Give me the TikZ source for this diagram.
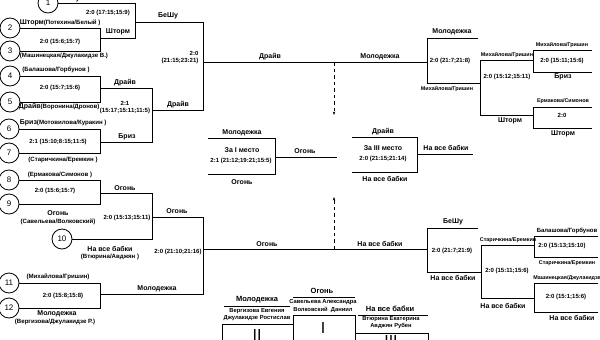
\documentclass[tikz,border=0pt]{standalone}
\usepackage{fontspec}
\setmainfont{Liberation Sans}
\usetikzlibrary{arrows.meta}
\newcommand{\tm}{\fontsize{7}{8}\selectfont\bfseries}
\newcommand{\pr}{\fontsize{6.1}{7}\selectfont\bfseries}

\begin{document}
\begin{tikzpicture}[
  x=1pt, y=-1pt,
  line width=0.8pt,
  seed/.style={circle, draw, line width=0.8pt, minimum size=20pt, inner sep=0pt,
               font=\fontsize{8}{9}\selectfont},
  team/.style={inner sep=0.5pt, font=\tm},
  score/.style={inner sep=0.5pt, align=center, font=\fontsize{6}{7}\selectfont\bfseries},
  pair/.style={inner sep=0.5pt, font=\pr},
  nick/.style={inner sep=0.5pt, font=\fontsize{5.4}{6.5}\selectfont\bfseries},
  names/.style={inner sep=0.5pt, align=center, font=\fontsize{5.8}{7.2}\selectfont\bfseries},
  place/.style={inner sep=0pt, font=\fontsize{16}{16}\selectfont},
  arrow/.style={-{Stealth[length=3.5pt,width=2.6pt]}, dash pattern=on 3.5pt off 3pt, line width=0.6pt}
]
\useasboundingbox (0,0) rectangle (600,340);

% seeds
\foreach \n/\x/\y in {1/48/3, 2/10/28, 3/10/51, 4/10/76, 5/10/102, 6/9/129, 7/9/153,
                      8/9/180, 9/9/204, 10/62/239, 11/9/283, 12/9/308}
  \node[seed] (c\n) at (\x,\y) {\n};

% junctions, left half
\coordinate (m23) at (100,38);
\coordinate (m1) at (135,22);
\coordinate (m45) at (100,88);
\coordinate (m67) at (100,142);
\coordinate (m47) at (152,110);
\coordinate (m89) at (100,193);
\coordinate (m810) at (152,217);
\coordinate (m1112) at (100,294);
\coordinate (m17) at (203,62);
\coordinate (m812) at (203,249);

% junctions, right top
\coordinate (mR1) at (427,62);
\coordinate (eR1) at (478,38);
\coordinate (mR2) at (480,83);
\coordinate (mR3) at (533,60);
\coordinate (eR3a) at (592,50);
\coordinate (eR3b) at (592,72);
\coordinate (mR4) at (533,115);
\coordinate (eR4a) at (592,107);
\coordinate (eR4b) at (592,128);

% junctions, right bottom
\coordinate (mB1) at (427,249);
\coordinate (eB1) at (478,228);
\coordinate (mB2) at (481,272);
\coordinate (mB3) at (534,245);
\coordinate (eB3a) at (598,236);
\coordinate (eB3b) at (598,257);
\coordinate (mB4) at (534,298);
\coordinate (eB4a) at (598,283);
\coordinate (eB4b) at (598,312);

% finals
\coordinate (g) at (275,157);
\coordinate (eGa) at (208,138);
\coordinate (eGb) at (208,174);
\coordinate (gout) at (337,157);
\coordinate (b) at (417,154);
\coordinate (eBa) at (352,137);
\coordinate (eBb) at (352,172);
\coordinate (bout) at (473,154);

\foreach \a/\b in {c2/m23, c3/m23, c1/m1, m23/m1, c4/m45, c5/m45, c6/m67, c7/m67,
                   m45/m47, m67/m47, c8/m89, c9/m89, m89/m810, c10/m810, c11/m1112,
                   c12/m1112, m1/m17, m47/m17, m810/m812, m1112/m812,
                   eR1/mR1, mR2/mR1, mR3/mR2, mR4/mR2, eR3a/mR3, eR3b/mR3, eR4a/mR4, eR4b/mR4,
                   eB1/mB1, mB2/mB1, mB3/mB2, mB4/mB2, eB3a/mB3, eB3b/mB3, eB4a/mB4, eB4b/mB4,
                   eGa/g, eGb/g, eBa/b, eBb/b}
  \draw (\a) -| (\b);
\draw (m17) -- (mR1);
\draw (m812) -- (mB1);
\draw (g) -- (gout);
\draw (b) -- (bout);

% dashed pointers to the finals
\coordinate (d1) at (334,62);
\coordinate (a1) at (334,115);
\coordinate (d2) at (334,249);
\coordinate (a2) at (334,197);
\draw[arrow] (d1) -- (a1);
\draw[arrow] (d2) -- (a2);

% seed labels
\node[team, anchor=west] (n1) at (59,-1) {БеШу};
\node[anchor=south west, inner sep=0.5pt] (n2) at (19,27) {\tm Шторм\pr(Потехина/Белый )};
\node[pair, anchor=west] (n3) at (19,56) {(Машинецкая/Джулакидзе В.)};
\node[pair] (n4) at (56,70) {(Балашова/Горбунов )};
\node[anchor=north west, inner sep=0.5pt] (n5) at (18,102.5) {\tm Драйв\pr(Воронина/Дронов)};
\node[anchor=south west, inner sep=0.5pt] (n6) at (19,127) {\tm Бриз\pr(Мотовилова/Куракин )};
\node[pair] (n7) at (63,160) {(Старичкина/Еремкин )};
\node[pair] (n8) at (60,175) {(Ермакова/Симонов )};
\node[team] (n9) at (58,213) {Огонь};
\node[pair] (n9b) at (58,222) {(Савельева/Волковский)};
\node[team] (n10) at (110,249) {На все бабки};
\node[pair] (n10b) at (110,257) {(Втюрина/Авджян )};
\node[pair] (n11) at (58,277) {(Михайлова/Гришин)};
\node[team] (n12) at (57,314) {Молодежка};
\node[pair] (n12b) at (55,322) {(Вергизова/Джулакидзе Р.)};

% scores, left half
\node[score] (s1) at (108,13) {2:0 (17:15;15:9)};
\node[score] (s23) at (60,42) {2:0 (15:6;15:7)};
\node[score] (s45) at (60,88) {2:0 (15:7;15:6)};
\node[score] (s47) at (125,108) {2:1\\(15:17;15:11;11:5)};
\node[score] (s67) at (58,142) {2:1 (15:10;8:15;11:5)};
\node[score] (s89) at (55,191) {2:0 (15:6;15:7)};
\node[score] (s810) at (127,218) {2:0 (15:13;15:11)};
\node[score] (s1112) at (63,296) {2:0 (15:8;15:8)};
\node[score, align=right] (s17) at (180,58) {2:0\\(21:15;23:21)};
\node[score] (s812) at (178,252) {2:0 (21:10;21:16)};

% winners, left half
\node[team] (w23) at (118,32) {Шторм};
\node[team] (w1) at (168,16) {БеШу};
\node[team] (w45) at (125,83) {Драйв};
\node[team] (w67) at (127,137) {Бриз};
\node[team] (w47) at (178,105) {Драйв};
\node[team] (w89) at (125,188) {Огонь};
\node[team] (w810) at (177,211) {Огонь};
\node[team] (w1112) at (157,289) {Молодежка};
\node[team] (w17) at (270,57) {Драйв};
\node[team] (wR1) at (380,57) {Молодежка};
\node[team] (w812) at (267,244) {Огонь};
\node[team] (wB1) at (380,244) {На все бабки};

% right top
\node[team] (r1a) at (452,32) {Молодежка};
\node[score] (r1s) at (450,61) {2:0 (21:7;21:8)};
\node[nick] (r1b) at (447,89) {Михайлова/Гришин};
\node[nick] (r2a) at (507,55) {Михайлова/Гришин};
\node[score] (r2s) at (507,77) {2:0 (15:12;15:11)};
\node[team] (r2b) at (510,121) {Шторм};
\node[nick] (r3a) at (562,45) {Михайлова/Гришин};
\node[score] (r3s) at (562,61) {2:0 (15:11;15:6)};
\node[team] (r3b) at (563,77) {Бриз};
\node[nick] (r4a) at (563,101) {Ермакова/Симонов};
\node[score] (r4s) at (562,115) {2:0};
\node[team] (r4b) at (563,134) {Шторм};

% right bottom
\node[team] (q1a) at (453,222) {БеШу};
\node[score] (q1s) at (452,251) {2:0 (21:7;21:9)};
\node[team] (q1b) at (453,278) {На все бабки};
\node[nick] (q2a) at (508,240) {Старичкина/Еремкин};
\node[score] (q2s) at (507,271) {2:0 (15:11;15:6)};
\node[team] (q2b) at (503,306) {На все бабки};
\node[score] (q3a) at (567,231) {Балашова/Горбунов};
\node[score] (q3s) at (562,246) {2:0 (15:13;15:10)};
\node[nick] (q3b) at (567,263) {Старичкина/Еремкин};
\node[nick] (q4a) at (567,278) {Машинецкая/Джулакидзе};
\node[score] (q4s) at (566,297) {2:0 (15:1;15:6)};
\node[team] (q4b) at (572,318) {На все бабки};

% finals
\node[team] (f1a) at (242,133) {Молодежка};
\node[team] (f1t) at (242,150) {За I место};
\node[score] (f1s) at (241,161) {2:1 (21:12;19:21;15:5)};
\node[team] (f1b) at (242,182) {Огонь};
\node[team] (f1w) at (305,151) {Огонь};
\node[team] (f3a) at (383,132) {Драйв};
\node[team] (f3t) at (383,148) {За III место};
\node[score] (f3s) at (383,159) {2:0 (21:15;21:14)};
\node[team] (f3b) at (385,179) {На все бабки};
\node[team] (f3w) at (446,148) {На все бабки};

% podium
\draw (222,345) |- (293,324) -- (293,345);
\draw (293,345) |- (355,315) -- (355,345);
\draw (355,345) |- (428,333) -- (428,345);
\draw (224,306) -- (290,306);
\draw (293,297) -- (355,297);
\draw (358,315) -- (428,315);
\node[team, font=\fontsize{7.5}{8}\selectfont\bfseries] (p2) at (257,300) {Молодежка};
\node[names] (p2n) at (257,314.5) {Вергизова Евгения\\Джулакидзе Ростислав};
\node[place] (p2p) at (257,335) {II};
\node[team, font=\fontsize{7.5}{8}\selectfont\bfseries] (p1) at (322,291) {Огонь};
\node[names] (p1n) at (323,306) {Савельева Александра\\Волковский \ Даниил};
\node[place] (p1p) at (323,328) {I};
\node[team, font=\fontsize{7.5}{8}\selectfont\bfseries] (p3) at (390,309) {На все бабки};
\node[names] (p3n) at (391,323) {Втюрина Екатерина\\Авджян Рубен};
\node[place] (p3p) at (391,341) {III};
\end{tikzpicture}
\end{document}
